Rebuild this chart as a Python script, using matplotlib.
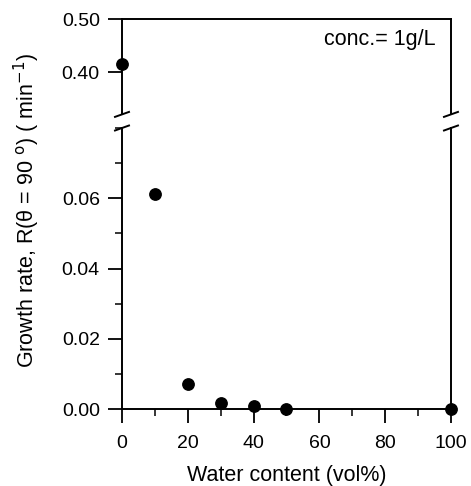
import matplotlib
matplotlib.use('Agg')
import matplotlib.pyplot as plt
from matplotlib.ticker import MultipleLocator

plt.rcParams['font.family'] = ['Liberation Sans', 'DejaVu Sans']

# data
water = [0, 10, 20, 30, 40, 50, 100]
rate = [0.416, 0.0613, 0.0071, 0.0017, 0.0009, 0.0, 0.0]

top_lim = (0.32, 0.50)
bot_lim = (0.0, 0.08)

fig = plt.figure(figsize=(4.71, 4.86), dpi=100)
ax_top = fig.add_axes([0.259, 0.7646, 0.6985, 0.1963])
ax_bot = fig.add_axes([0.259, 0.1584, 0.6985, 0.5782])

for ax, lim in ((ax_top, top_lim), (ax_bot, bot_lim)):
    xs = [x for x, y in zip(water, rate) if lim[0] <= y <= lim[1]]
    ys = [y for y in rate if lim[0] <= y <= lim[1]]
    ax.plot(xs, ys, 'o', color='black', markersize=8.2, clip_on=False, zorder=5)
    ax.set_xlim(0, 100)
    ax.set_ylim(*lim)
    for s in ax.spines.values():
        s.set_linewidth(1.4)
    ax.tick_params(which='major', direction='out', length=10, width=1.3, labelsize=14, pad=6)
    ax.tick_params(which='minor', direction='out', length=5, width=1.1)

ax_top.spines['bottom'].set_visible(False)
ax_top.set_yticks([0.40, 0.50])
ax_top.set_yticklabels(['0.40', '0.50'])
ax_top.tick_params(axis='x', which='both', bottom=False, labelbottom=False)
ax_top.text(0.954, 0.78, 'conc.= 1g/L', transform=ax_top.transAxes,
            ha='right', va='center', fontsize=15.5)

ax_bot.spines['top'].set_visible(False)
ax_bot.set_yticks([0.00, 0.02, 0.04, 0.06])
ax_bot.set_yticklabels(['0.00', '0.02', '0.04', '0.06'])
ax_bot.yaxis.set_minor_locator(MultipleLocator(0.01))
ax_bot.set_xticks([0, 20, 40, 60, 80, 100])
ax_bot.xaxis.set_minor_locator(MultipleLocator(10))
ax_bot.tick_params(axis='x', which='major', length=10, pad=9)
ax_bot.set_xlabel('Water content (vol%)', fontsize=15.5, labelpad=9)

# break marks on both spines
dx = 7 / 329
for x0 in (0, 1):
    ax_top.plot([x0 - dx, x0 + dx], [-2.5 / 96, 2.5 / 96], transform=ax_top.transAxes,
                color='black', lw=1.4, clip_on=False)
    ax_bot.plot([x0 - dx, x0 + dx], [1 - 2.5 / 281, 1 + 2.5 / 281], transform=ax_bot.transAxes,
                color='black', lw=1.4, clip_on=False)

fig.text(0.057, 0.566, 'Growth rate, R(θ = 90 $^{\\rm o}$) ( min$^{-1}$)',
         rotation=90, ha='center', va='center', fontsize=15.5)

fig.savefig('out.png', dpi=100)
